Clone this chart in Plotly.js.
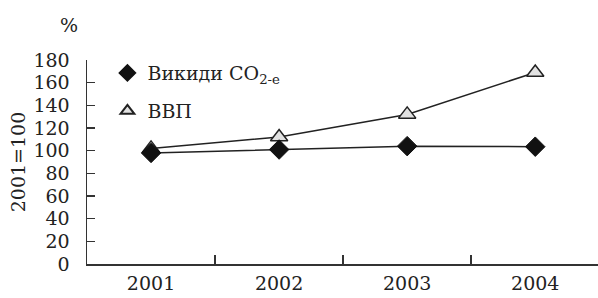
<!DOCTYPE html>
<html>
<head>
<meta charset="utf-8">
<script src="https://cdn.plot.ly/plotly-3.0.1.min.js"></script>
<style>html,body{margin:0;padding:0;background:#fff}#chart{width:598px;height:298px}</style>
</head>
<body>
<div id="chart"></div>
<script>
const years = ["2001", "2002", "2003", "2004"];
const co2 = [98, 101, 104, 103.5];
const gdp = [102, 112, 132, 169];
const nameCO2 = "Викиди CO<sub>2-e</sub>";
const nameGDP = "ВВП";

const font = "'DejaVu Serif', serif";

const traces = [
  {x: years, y: gdp, type: "scatter", mode: "lines+markers", showlegend: false,
   line: {color: "#222", width: 1.5},
   marker: {symbol: "triangle-up", size: 15, color: "#e2e2e2", line: {color: "#222", width: 1.5}}},
  {x: years, y: co2, type: "scatter", mode: "lines+markers", showlegend: false,
   line: {color: "#222", width: 1.5},
   marker: {symbol: "diamond", size: 15, color: "#111", line: {color: "#111", width: 1}}},
  {x: [null], y: [null], type: "scatter", mode: "markers", name: nameCO2, legend: "legend",
   marker: {symbol: "diamond", size: 14, color: "#111", line: {color: "#111", width: 1}}},
  {x: [null], y: [null], type: "scatter", mode: "markers", name: nameGDP, legend: "legend2",
   marker: {symbol: "triangle-up", size: 12, color: "#e2e2e2", line: {color: "#222", width: 1.5}}}
];

const legFont = {family: font, size: 19, color: "#222"};
const layout = {
  width: 598, height: 298,
  margin: {l: 87, r: 0, t: 60, b: 34},
  paper_bgcolor: "#fff", plot_bgcolor: "#fff",
  font: {family: font, size: 19, color: "#222"},
  showlegend: true,
  legend: {x: 0.04, y: 0.936, xanchor: "left", yanchor: "middle", bgcolor: "rgba(0,0,0,0)",
           font: legFont, itemsizing: "constant"},
  legend2: {x: 0.04, y: 0.75, xanchor: "left", yanchor: "middle", bgcolor: "rgba(0,0,0,0)",
           font: legFont, itemsizing: "constant"},
  xaxis: {type: "category", range: [-0.5, 3.49], showline: true, linecolor: "#333", linewidth: 1.5,
          ticks: "inside", tickson: "boundaries", ticklen: 9, tickwidth: 1.5, tickcolor: "#333",
          showgrid: false, zeroline: false, ticklabelstandoff: 2,
          tickfont: {family: font, size: 19, color: "#222"}, fixedrange: true},
  yaxis: {range: [0, 180], tickvals: [0,20,40,60,80,100,120,140,160,180], showline: true,
          linecolor: "#333", linewidth: 1.5, ticks: "inside", ticklen: 8, tickwidth: 1.5, tickcolor: "#333",
          showgrid: false, zeroline: false, ticklabelstandoff: 12,
          tickfont: {family: font, size: 19, color: "#222"},
          title: {text: "2001=100", font: {family: font, size: 19, color: "#222"}, standoff: 3}},
  annotations: [
    {text: "%", xref: "paper", yref: "paper", x: -0.035, y: 1.17, xanchor: "center", yanchor: "middle",
     showarrow: false, font: {family: font, size: 19, color: "#222"}}
  ]
};

Plotly.newPlot("chart", traces, layout, {displayModeBar: false, staticPlot: true});
</script>
</body>
</html>
